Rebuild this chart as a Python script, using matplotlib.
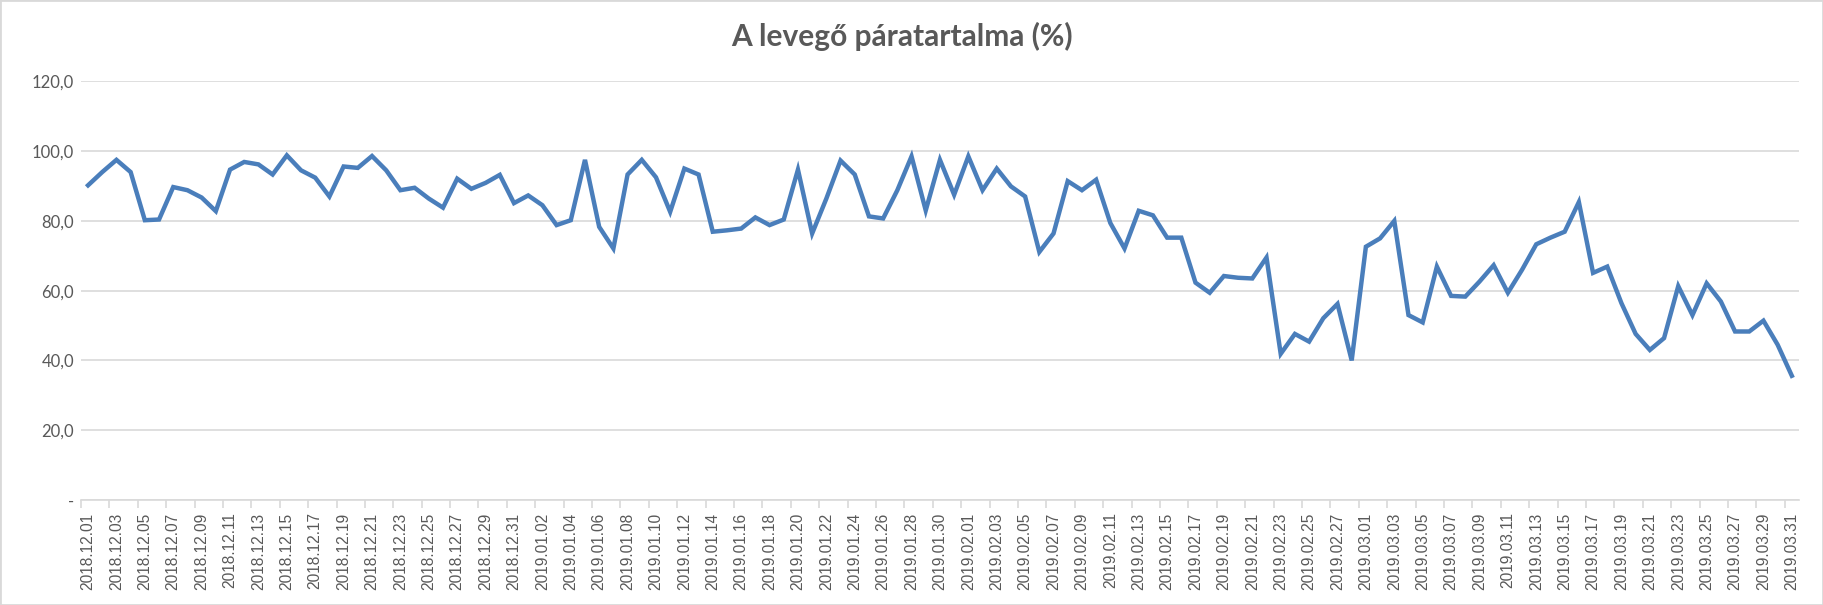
import numpy as np
import pandas as pd
import matplotlib
matplotlib.use('Agg')
import matplotlib.pyplot as plt
from matplotlib.patches import Rectangle

# napi adatok: 2018.12.01 - 2019.03.31
dates = pd.date_range('2018-12-01', '2019-03-31', freq='D')
date_labels = [d.strftime('%Y.%m.%d') for d in dates]

humidity = [
    90.2, 94.0, 97.5, 94.0, 80.2, 80.4, 89.7, 88.8, 86.7, 82.8,
    94.7, 96.9, 96.2, 93.3, 98.8, 94.5, 92.4, 87.0, 95.6, 95.2,
    98.6, 94.5, 88.8, 89.5, 86.4, 83.8, 92.1, 89.2, 90.9, 93.2,
    85.1, 87.3, 84.5, 78.8, 80.2, 97.5, 78.3, 72.1, 93.3, 97.5,
    92.5, 82.6, 95.0, 93.3, 76.9, 77.3, 77.8, 81.0, 78.8, 80.4,
    94.7, 76.4, 86.4, 97.3, 93.3, 81.3, 80.7, 88.8, 98.5, 83.0,
    97.5, 87.5, 98.5, 88.8, 95.0, 89.9, 87.0, 71.1, 76.4, 91.4,
    88.8, 91.8, 79.4, 72.1, 82.9, 81.6, 75.2, 75.2, 62.3, 59.4,
    64.2, 63.7, 63.5, 69.5, 41.9, 47.6, 45.4, 52.1, 56.2, 40.0,
    72.6, 75.0, 80.0, 53.0, 50.9, 66.9, 58.5, 58.3, 62.6, 67.3,
    59.4, 66.0, 73.3, 75.2, 76.9, 85.4, 65.1, 66.9, 56.4, 47.6,
    43.0, 46.4, 61.3, 53.0, 62.1, 56.9, 48.3, 48.3, 51.4, 44.5,
    35.6,
]

y_ticks = [0, 20, 40, 60, 80, 100, 120]
y_tick_labels = ['-', '20,0', '40,0', '60,0', '80,0', '100,0', '120,0']

title = 'A levegő páratartalma (%)'

TEXT = '#595959'
GRID = '#d9d9d9'
LINE = '#4a7ebb'

fig = plt.figure(figsize=(18.23, 6.05), dpi=100)
ax = fig.add_axes([0.0444, 0.1736, 0.9424, 0.6919])

x = np.arange(len(humidity))
ax.plot(x, humidity, color=LINE, lw=3.2, solid_joinstyle='miter')

ax.set_xlim(-0.5, len(humidity) - 0.5)
ax.set_ylim(0, 120)

# y tengely
ax.set_yticks(y_ticks)
ax.set_yticklabels(y_tick_labels, fontsize=12, color=TEXT, family='Lato')
ax.tick_params(axis='y', length=0, pad=5)
ax.grid(axis='y', color=GRID, lw=1.2)
ax.set_axisbelow(True)

# x tengely: felirat minden második napra, beosztás a kategóriák között
ax.set_xticks(x[::2])
ax.set_xticklabels(date_labels[::2], rotation=90, fontsize=11.2, color=TEXT,
                   family='Liberation Sans')
ax.set_xticks(np.arange(-0.5, len(humidity) - 1, 2), minor=True)
ax.tick_params(axis='x', which='major', length=0, pad=9)
ax.tick_params(axis='x', which='minor', length=6, color=GRID, width=1.2)

for side in ['top', 'right', 'left']:
    ax.spines[side].set_visible(False)
ax.spines['bottom'].set_color(GRID)
ax.spines['bottom'].set_linewidth(1.2)

fig.text(0.495, 0.94, title, ha='center', va='center', fontsize=21.5,
         fontweight='bold', color=TEXT, family='Lato')

# diagram kerete
fig.patches.append(Rectangle((0, 0), 1, 1, transform=fig.transFigure,
                             fill=False, edgecolor=GRID, lw=2))

fig.savefig('out.png', dpi=100)
plt.close(fig)
